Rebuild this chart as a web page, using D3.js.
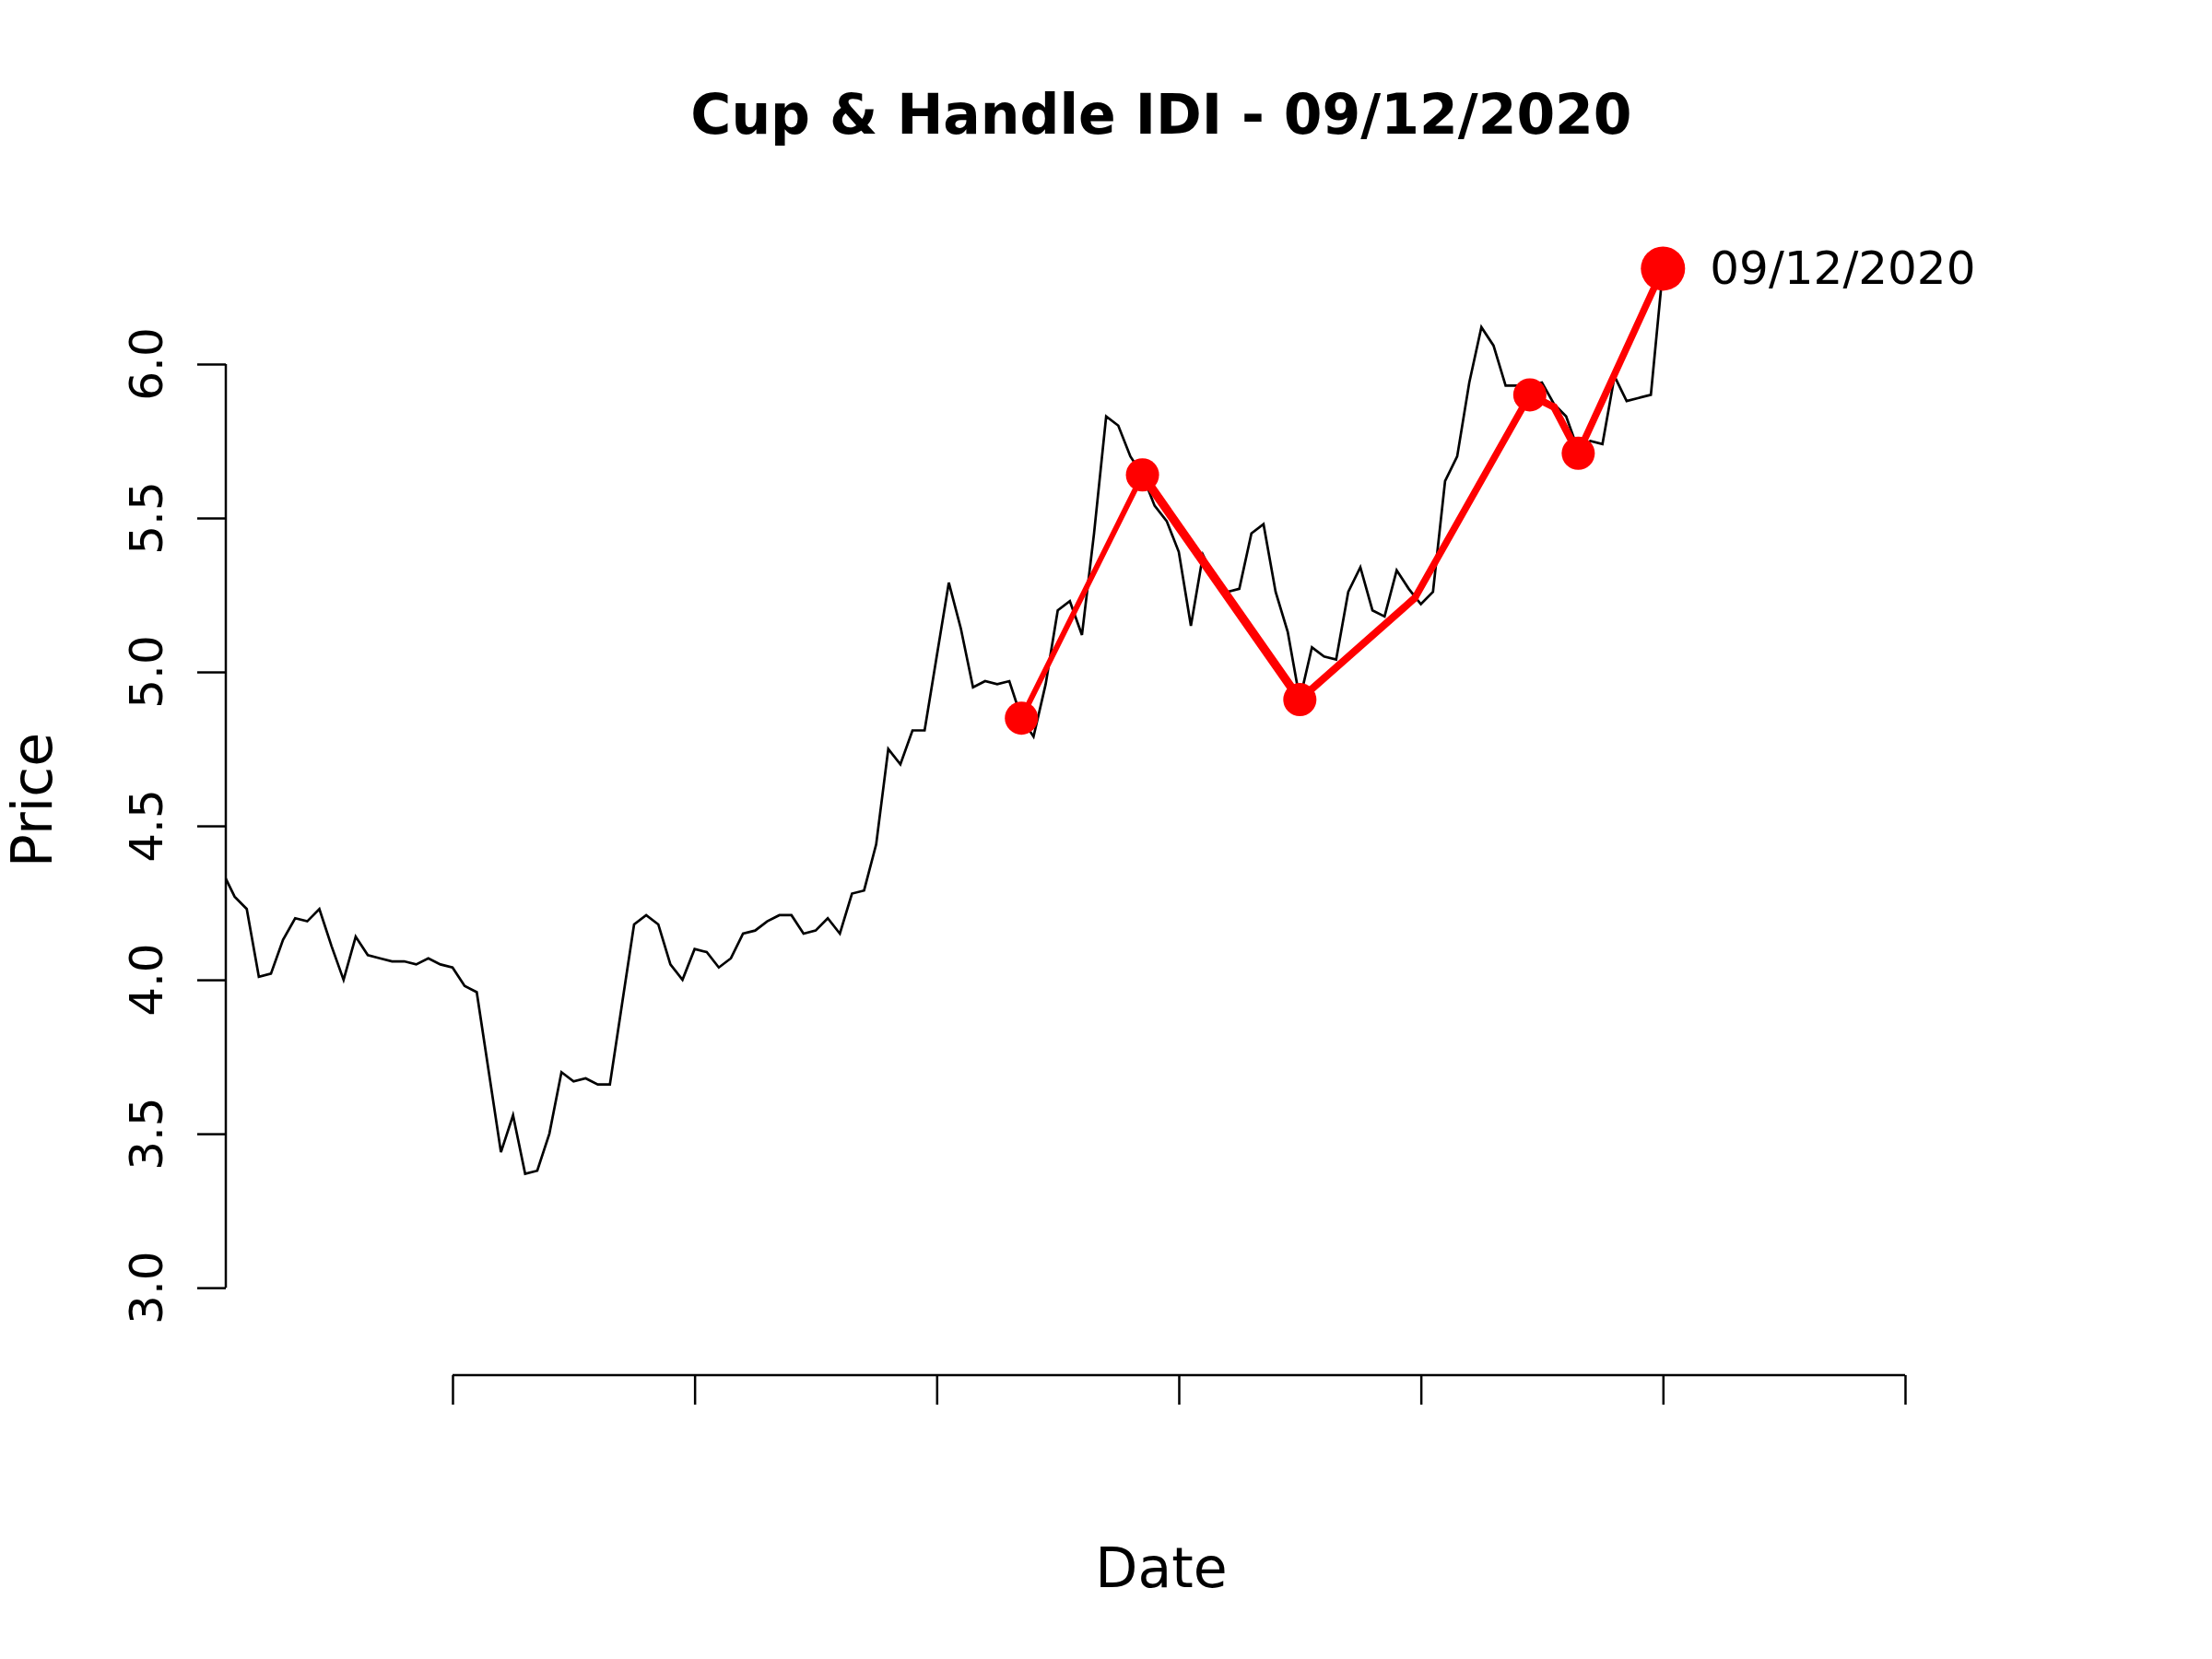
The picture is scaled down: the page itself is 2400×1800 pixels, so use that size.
<!DOCTYPE html>
<html lang="en">

<head>
    <meta charset="UTF-8">
    <title>Cup & Handle IDI</title>
    <script src="https://d3js.org/d3.v7.min.js"></script>
    <style>
        body { margin: 0; background: #fff; }
        text { font-family: "DejaVu Sans", sans-serif; fill: #000; }
    </style>
</head>

<body>
    <div id="content"></div>
</body>
<script>
// closing prices, one per trading day (index 1..120)
const prices = [
    4.35, 4.27, 4.23, 4.01, 4.02, 4.13, 4.20, 4.19, 4.23, 4.11,
    4.00, 4.14, 4.08, 4.07, 4.06, 4.06, 4.05, 4.07, 4.05, 4.04,
    3.98, 3.96, 3.70, 3.44, 3.56, 3.37, 3.38, 3.50, 3.70, 3.67,
    3.68, 3.66, 3.66, 3.92, 4.18, 4.21, 4.18, 4.05, 4.00, 4.10,
    4.09, 4.04, 4.07, 4.15, 4.16, 4.19, 4.21, 4.21, 4.15, 4.16,
    4.20, 4.15, 4.28, 4.29, 4.44, 4.75, 4.70, 4.81, 4.81, 5.05,
    5.29, 5.14, 4.95, 4.97, 4.96, 4.97, 4.85, 4.79, 4.96, 5.20,
    5.23, 5.12, 5.45, 5.83, 5.80, 5.70, 5.64, 5.54, 5.49, 5.39,
    5.15, 5.38, 5.30, 5.26, 5.27, 5.45, 5.48, 5.26, 5.13, 4.91,
    5.08, 5.05, 5.04, 5.26, 5.34, 5.20, 5.18, 5.33, 5.27, 5.22,
    5.26, 5.62, 5.70, 5.94, 6.12, 6.06, 5.93, 5.93, 5.93, 5.94,
    5.87, 5.83, 5.72, 5.75, 5.74, 5.96, 5.88, 5.89, 5.90, 6.31
];

// cup & handle pattern path
const patternIdx = [67, 77, 90, 99.5, 109, 111, 113, 120];
const patternVal = [4.85, 5.64, 4.91, 5.24, 5.90, 5.86, 5.71, 6.31];
const patternDot = [true, true, true, false, true, false, true, true];
const patternWidth = [6, 9.5, 8, 7.5, 8, 8, 7.5]; // per segment

const xTicks = [20, 40, 60, 80, 100, 120, 140];
const yTicks = [3.0, 3.5, 4.0, 4.5, 5.0, 5.5, 6.0];

const title = "Cup & Handle IDI - 09/12/2020";
const endLabel = "09/12/2020";

const W = 2400, H = 1800;
const plot = { left: 245, right: 2275, top: 244, bottom: 1492 };

const x = d3.scaleLinear()
    .domain([1.27, 155.84])
    .range([plot.left, plot.right]);

const y = d3.scaleLinear()
    .domain([2.716, 6.452])
    .range([plot.bottom, plot.top]);

const svg = d3.select("#content")
    .append("svg")
    .attr("width", W)
    .attr("height", H)

svg.append("defs").append("clipPath")
    .attr("id", "plotclip")
    .append("rect")
    .attr("x", plot.left)
    .attr("y", plot.top)
    .attr("width", plot.right - plot.left)
    .attr("height", plot.bottom - plot.top)

const series = prices.map((v, i) => [i + 1, v]);

const line = d3.line()
    .x(d => x(d[0]))
    .y(d => y(d[1]));

svg.append("path")
    .datum(series)
    .attr("clip-path", "url(#plotclip)")
    .attr("d", line)
    .attr("fill", "none")
    .attr("stroke", "#000")
    .attr("stroke-width", 2.7)
    .attr("stroke-linejoin", "miter")

// red pattern segments
const pattern = patternIdx.map((d, i) => ({ i: d, v: patternVal[i], dot: patternDot[i] }));
const segs = d3.pairs(pattern);

svg.append("g")
    .selectAll("line")
    .data(segs)
    .join("line")
    .attr("x1", d => x(d[0].i))
    .attr("y1", d => y(d[0].v))
    .attr("x2", d => x(d[1].i))
    .attr("y2", d => y(d[1].v))
    .attr("stroke", "#ff0000")
    .attr("stroke-width", (d, i) => patternWidth[i])
    .attr("stroke-linecap", "round")

const dots = pattern.filter(d => d.dot);
svg.append("g")
    .selectAll("circle")
    .data(dots)
    .join("circle")
    .attr("cx", d => x(d.i))
    .attr("cy", d => y(d.v))
    .attr("r", (d, k) => k === dots.length - 1 ? 24 : 18)
    .attr("fill", "#ff0000")

const last = pattern[pattern.length - 1];
svg.append("text")
    .attr("x", x(last.i) + 51)
    .attr("y", y(last.v))
    .attr("dy", "0.33em")
    .style("font-size", "50px")
    .text(endLabel)

// y axis
const yAxis = svg.append("g")
    .attr("transform", `translate(${plot.left},0)`)
    .call(d3.axisLeft(y).tickValues(yTicks).tickSize(31).tickSizeOuter(0).tickFormat(""))

yAxis.select(".domain").remove();
yAxis.selectAll(".tick line").attr("stroke", "#000").attr("stroke-width", 2.5);
yAxis.append("line")
    .attr("x1", 0).attr("x2", 0)
    .attr("y1", y(yTicks[0])).attr("y2", y(yTicks[yTicks.length - 1]))
    .attr("stroke", "#000").attr("stroke-width", 2.5)

svg.append("g")
    .selectAll("text")
    .data(yTicks)
    .join("text")
    .attr("transform", d => `translate(175.5,${y(d)}) rotate(-90)`)
    .attr("text-anchor", "middle")
    .style("font-size", "50px")
    .text(d3.format(".1f"))

// x axis (ticks only, no labels)
const xAxis = svg.append("g")
    .attr("transform", `translate(0,${plot.bottom})`)
    .call(d3.axisBottom(x).tickValues(xTicks).tickSize(32).tickSizeOuter(0).tickFormat(""))

xAxis.select(".domain").remove();
xAxis.selectAll(".tick line").attr("stroke", "#000").attr("stroke-width", 2.5);
xAxis.append("line")
    .attr("x1", x(xTicks[0])).attr("x2", x(xTicks[xTicks.length - 1]))
    .attr("y1", 0).attr("y2", 0)
    .attr("stroke", "#000").attr("stroke-width", 2.5)

// titles
const cx = (plot.left + plot.right) / 2;

svg.append("text")
    .attr("x", cx)
    .attr("y", 145)
    .attr("text-anchor", "middle")
    .style("font-size", "60px")
    .style("font-weight", "bold")
    .text(title)

svg.append("text")
    .attr("x", cx)
    .attr("y", 1722)
    .attr("text-anchor", "middle")
    .style("font-size", "60px")
    .text("Date")

svg.append("text")
    .attr("transform", `translate(56,${(plot.top + plot.bottom) / 2}) rotate(-90)`)
    .attr("text-anchor", "middle")
    .style("font-size", "60px")
    .text("Price")
</script>

</html>
